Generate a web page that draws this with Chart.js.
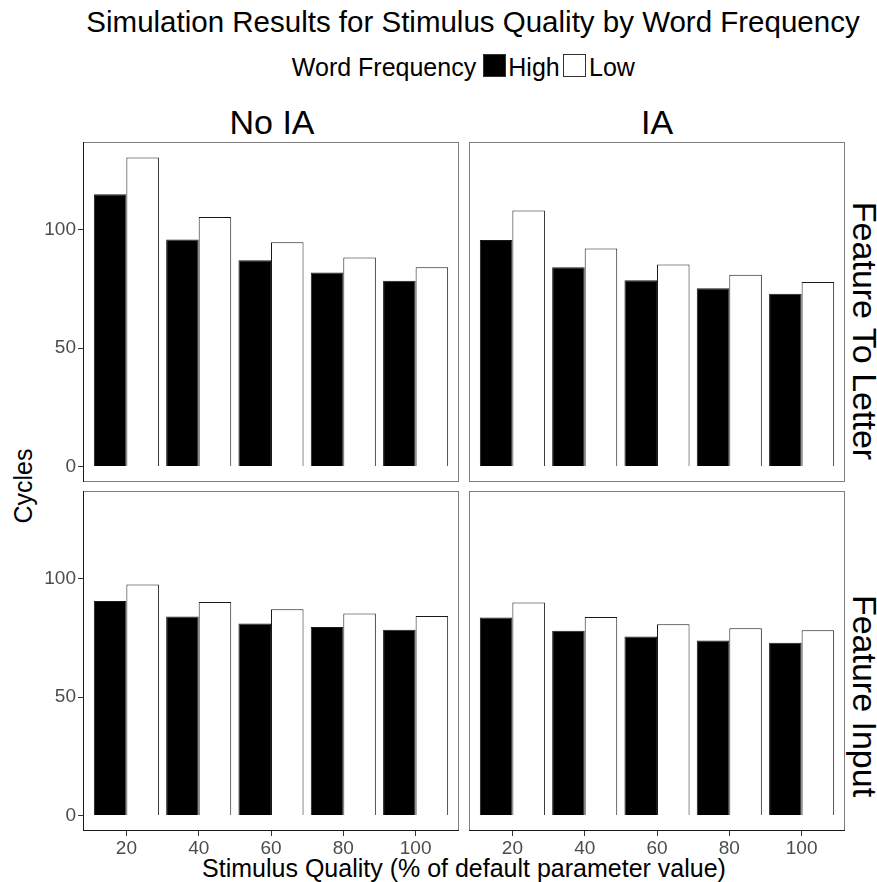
<!DOCTYPE html>
<html>
<head>
<meta charset="utf-8">
<script src="https://cdn.jsdelivr.net/npm/chart.js@4"></script>
<style>
  body { margin: 0; background: #fff; width: 877px; height: 882px; overflow: hidden; position: relative; font-family: 'Liberation Sans', Arial, sans-serif; }
  canvas { position: absolute; }
  .txt { position: absolute; white-space: nowrap; color: #000; line-height: normal; transform: translate(-50%, -50%); }
  .box { position: absolute; width: 23px; height: 23px; box-sizing: border-box; border: 1px solid #333; }
</style>
</head>
<body>
<div class="txt" style="left:473px; top:22px; font-size:29.5px;">Simulation Results for Stimulus Quality by Word Frequency</div>
<div class="txt" style="left:384px; top:67px; font-size:25px;">Word Frequency</div>
<div class="box" style="left:483px; top:54px; background:#000;"></div>
<div class="txt" style="left:534px; top:67px; font-size:25px;">High</div>
<div class="box" style="left:563px; top:54px; background:#fff;"></div>
<div class="txt" style="left:612px; top:67px; font-size:25px;">Low</div>
<div class="txt" style="left:272px; top:122px; font-size:34px;">No IA</div>
<div class="txt" style="left:657px; top:122px; font-size:34px;">IA</div>
<div class="txt" style="left:864px; top:331px; font-size:34px; transform: translate(-50%, -50%) rotate(90deg);">Feature To Letter</div>
<div class="txt" style="left:864px; top:696px; font-size:34px; transform: translate(-50%, -50%) rotate(90deg);">Feature Input</div>
<div class="txt" style="left:23px; top:486px; font-size:25px; transform: translate(-50%, -50%) rotate(-90deg);">Cycles</div>
<div class="txt" style="left:464px; top:868px; font-size:25px;">Stimulus Quality (% of default parameter value)</div>

<canvas id="tl" style="left:0px; top:140px;" width="461" height="343"></canvas>
<canvas id="tr" style="left:462px; top:140px;" width="385" height="343"></canvas>
<canvas id="bl" style="left:0px; top:489px;" width="461" height="373"></canvas>
<canvas id="br" style="left:462px; top:489px;" width="385" height="373"></canvas>

<script>
var quality = [20, 40, 60, 80, 100];

// Feature To Letter
var noIaLetterHigh = [114.9, 95.8, 87.1, 81.9, 78.4];
var noIaLetterLow = [130.5, 105.3, 94.7, 88.3, 84.1];
var iaLetterHigh = [95.6, 84.1, 78.7, 75.3, 72.9];
var iaLetterLow = [108.1, 92.1, 85.3, 81.0, 77.9];

// Feature Input
var noIaInputHigh = [90.6, 84.0, 81.1, 79.6, 78.4];
var noIaInputLow = [97.5, 90.1, 87.1, 85.3, 84.2];
var iaInputHigh = [83.6, 78.0, 75.6, 73.9, 73.0];
var iaInputLow = [89.9, 83.8, 80.8, 79.1, 78.2];

var yTicks = [0, 50, 100];

function toPoints(values) {
    return values.map(function (v, i) {
        return { x: quality[i], y: v };
    });
}

var panelBorder = {
    id: 'panelBorder',
    afterDraw: function (chart, args, opts) {
        var a = chart.chartArea;
        var ctx = chart.ctx;
        ctx.save();
        ctx.lineWidth = 1;
        ctx.strokeStyle = '#7f7f7f';
        ctx.strokeRect(Math.round(a.left) + 0.5, Math.round(a.top) + 0.5,
            Math.round(a.right - a.left) - 1, Math.round(a.bottom - a.top) - 1);
        ctx.strokeStyle = '#1a1a1a';
        ctx.beginPath();
        if (opts.left) {
            ctx.moveTo(Math.round(a.left) + 0.5, Math.round(a.top));
            ctx.lineTo(Math.round(a.left) + 0.5, Math.round(a.bottom));
        }
        if (opts.bottom) {
            ctx.moveTo(Math.round(a.left), Math.round(a.bottom) - 0.5);
            ctx.lineTo(Math.round(a.right), Math.round(a.bottom) - 0.5);
        }
        ctx.stroke();
        ctx.restore();
    }
};

function makePanel(id, high, low, showLeft, showBottom) {
    var ctx = document.getElementById(id).getContext('2d');
    return new Chart(ctx, {
        type: 'bar',
        data: {
            datasets: [
                {
                    label: 'High',
                    data: toPoints(high),
                    backgroundColor: '#000000',
                    borderColor: '#1a1a1a',
                    borderWidth: 1,
                    categoryPercentage: 0.9,
                    barPercentage: 1.0
                },
                {
                    label: 'Low',
                    data: toPoints(low),
                    backgroundColor: '#ffffff',
                    borderColor: '#1a1a1a',
                    borderWidth: 1,
                    categoryPercentage: 0.9,
                    barPercentage: 1.0
                }
            ]
        },
        options: {
            responsive: false,
            animation: false,
            events: [],
            layout: { padding: { top: 2, right: 2, bottom: showBottom ? 0 : 1, left: 0 } },
            plugins: {
                legend: { display: false },
                tooltip: { enabled: false },
                panelBorder: { left: showLeft, bottom: showBottom }
            },
            scales: {
                x: {
                    type: 'linear',
                    offset: false,
                    min: 8,
                    max: 112,
                    display: showBottom,
                    afterBuildTicks: function (s) {
                        s.ticks = quality.map(function (q) { return { value: q }; });
                    },
                    afterFit: function (s) {
                        s.height = showBottom ? 31 : 0;
                        s.paddingLeft = 0;
                        s.paddingRight = 0;
                    },
                    grid: { offset: false, drawOnChartArea: false, drawTicks: true, tickLength: 5, color: '#333333' },
                    border: { display: false },
                    ticks: {
                        color: '#4d4d4d',
                        padding: 1,
                        maxRotation: 0,
                        autoSkip: false,
                        font: { family: 'Liberation Sans', size: 19 }
                    }
                },
                y: {
                    min: -6.5,
                    max: 137,
                    afterBuildTicks: function (s) {
                        s.ticks = yTicks.map(function (t) { return { value: t }; });
                    },
                    afterFit: function (s) {
                        s.width = showLeft ? 83 : 7;
                        s.paddingTop = 0;
                        s.paddingBottom = 0;
                    },
                    grid: { drawOnChartArea: false, drawTicks: showLeft, tickLength: 5, color: '#333333' },
                    border: { display: false },
                    ticks: {
                        display: showLeft,
                        color: '#4d4d4d',
                        padding: 2,
                        font: { family: 'Liberation Sans', size: 19 }
                    }
                }
            }
        },
        plugins: [panelBorder]
    });
}

makePanel('tl', noIaLetterHigh, noIaLetterLow, true, false);
makePanel('tr', iaLetterHigh, iaLetterLow, false, false);
makePanel('bl', noIaInputHigh, noIaInputLow, true, true);
makePanel('br', iaInputHigh, iaInputLow, false, true);
</script>
</body>
</html>
